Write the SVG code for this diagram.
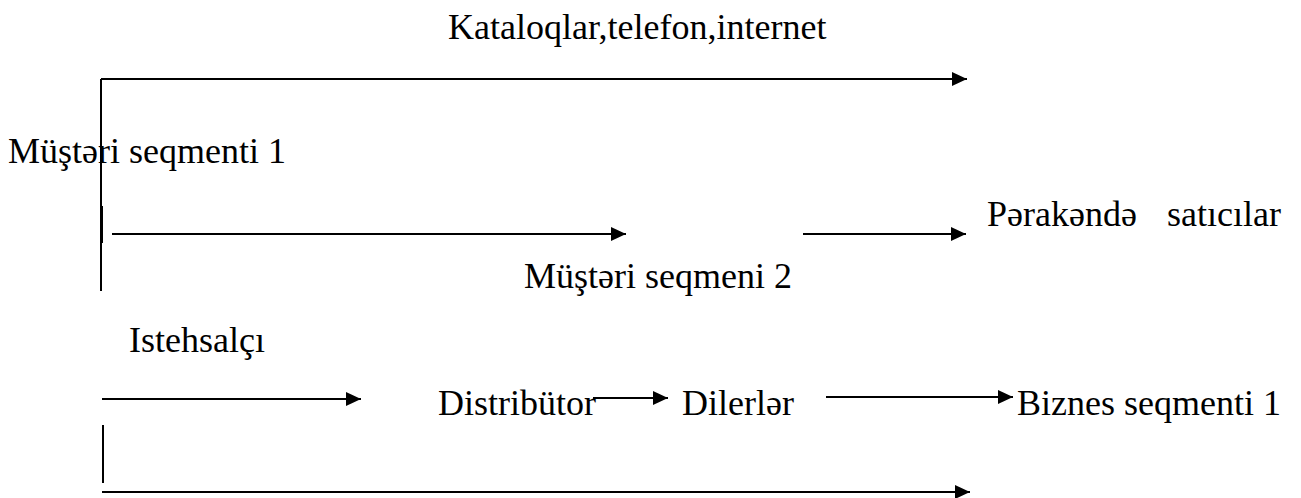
<svg xmlns="http://www.w3.org/2000/svg" width="1301" height="498" viewBox="0 0 1301 498">
<style>
.t text{font-family:'Liberation Serif','Times New Roman',serif;font-size:36px;fill:#000}
.c line{stroke:#000;stroke-width:2;fill:none}
.a{marker-end:url(#ah)}
</style>
<defs>
<marker id="ah" markerUnits="userSpaceOnUse" markerWidth="15" markerHeight="14" refX="15" refY="7" orient="auto">
<path d="M0,0 L15,7 L0,14 z" fill="#000"/>
</marker>
</defs>
<rect width="1301" height="498" fill="#fff"/>
<g id="connectors" class="c">
<line x1="101" y1="79" x2="101" y2="291"/>
<line x1="102" y1="206" x2="102" y2="243"/>
<line class="a" x1="101" y1="79" x2="967" y2="79"/>
<line class="a" x1="112" y1="234" x2="626" y2="234"/>
<line class="a" x1="803" y1="234" x2="966" y2="234"/>
<line class="a" x1="102" y1="399" x2="361" y2="399"/>
<line class="a" x1="593" y1="398" x2="668" y2="398"/>
<line class="a" x1="826" y1="397" x2="1013" y2="397"/>
<line x1="103" y1="425" x2="103" y2="483"/>
<line class="a" x1="102" y1="492" x2="970" y2="492"/>
</g>
<g class="t">
<g id="kataloqlar"><text x="448" y="39">Kataloqlar,telefon,internet</text></g>
<g id="musteri1"><text x="8" y="163">Müştəri seqmenti 1</text></g>
<g id="perakende"><text x="987" y="226">Pərakəndə</text><text x="1167" y="226">satıcılar</text></g>
<g id="musteri2"><text x="524" y="288">Müştəri seqmeni 2</text></g>
<g id="istehsalci"><text x="129" y="352">Istehsalçı</text></g>
<g id="distributor"><text x="438" y="415">Distribütor</text></g>
<g id="dilerler"><text x="682" y="415">Dilerlər</text></g>
<g id="biznes"><text x="1017" y="415">Biznes seqmenti 1</text></g>
</g>
</svg>
